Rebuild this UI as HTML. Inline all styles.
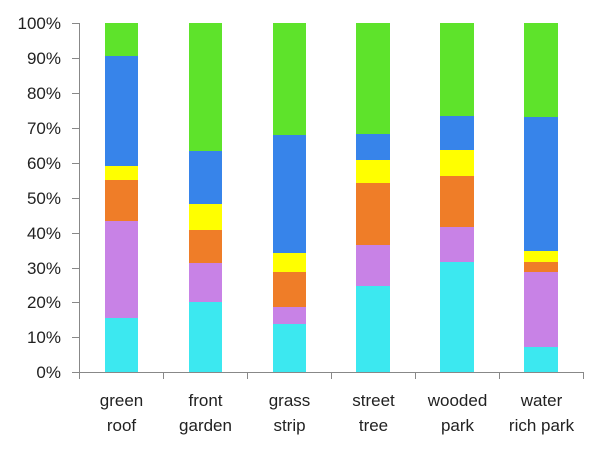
<!DOCTYPE html>
<html><head><meta charset="utf-8"><style>
html,body{margin:0;padding:0;background:#fff;}
svg{display:block;}
text{font-family:"Liberation Sans",sans-serif;font-size:17px;fill:#222;}
</style></head><body>
<svg width="610" height="450" viewBox="0 0 610 450">
<g id="bars"></g>
<g>
<!-- bar1 -->
<rect x="105" y="23" width="33" height="33" fill="#5ee32b"/>
<rect x="105" y="56" width="33" height="110" fill="#3784ea"/>
<rect x="105" y="166" width="33" height="14" fill="#ffff00"/>
<rect x="105" y="180" width="33" height="41" fill="#ef7d28"/>
<rect x="105" y="221" width="33" height="97" fill="#c882e6"/>
<rect x="105" y="318" width="33" height="54" fill="#3ce8f0"/>
<!-- bar2 -->
<rect x="189" y="23" width="33" height="128" fill="#5ee32b"/>
<rect x="189" y="151" width="33" height="53" fill="#3784ea"/>
<rect x="189" y="204" width="33" height="26" fill="#ffff00"/>
<rect x="189" y="230" width="33" height="33" fill="#ef7d28"/>
<rect x="189" y="263" width="33" height="39" fill="#c882e6"/>
<rect x="189" y="302" width="33" height="70" fill="#3ce8f0"/>
<!-- bar3 -->
<rect x="273" y="23" width="33" height="112" fill="#5ee32b"/>
<rect x="273" y="135" width="33" height="118" fill="#3784ea"/>
<rect x="273" y="253" width="33" height="19" fill="#ffff00"/>
<rect x="273" y="272" width="33" height="35" fill="#ef7d28"/>
<rect x="273" y="307" width="33" height="17" fill="#c882e6"/>
<rect x="273" y="324" width="33" height="48" fill="#3ce8f0"/>
<!-- bar4 -->
<rect x="356" y="23" width="34" height="111" fill="#5ee32b"/>
<rect x="356" y="134" width="34" height="26" fill="#3784ea"/>
<rect x="356" y="160" width="34" height="23" fill="#ffff00"/>
<rect x="356" y="183" width="34" height="62" fill="#ef7d28"/>
<rect x="356" y="245" width="34" height="41" fill="#c882e6"/>
<rect x="356" y="286" width="34" height="86" fill="#3ce8f0"/>
<!-- bar5 -->
<rect x="440" y="23" width="34" height="93" fill="#5ee32b"/>
<rect x="440" y="116" width="34" height="34" fill="#3784ea"/>
<rect x="440" y="150" width="34" height="26" fill="#ffff00"/>
<rect x="440" y="176" width="34" height="51" fill="#ef7d28"/>
<rect x="440" y="227" width="34" height="35" fill="#c882e6"/>
<rect x="440" y="262" width="34" height="110" fill="#3ce8f0"/>
<!-- bar6 -->
<rect x="524" y="23" width="34" height="94" fill="#5ee32b"/>
<rect x="524" y="117" width="34" height="134" fill="#3784ea"/>
<rect x="524" y="251" width="34" height="11" fill="#ffff00"/>
<rect x="524" y="262" width="34" height="10" fill="#ef7d28"/>
<rect x="524" y="272" width="34" height="75" fill="#c882e6"/>
<rect x="524" y="347" width="34" height="25" fill="#3ce8f0"/>
</g>
<g stroke="#888" stroke-width="1" fill="none">
<line x1="79.5" y1="23" x2="79.5" y2="372"/>
<line x1="72" y1="372.5" x2="583.5" y2="372.5"/>
<line x1="72" y1="23.5" x2="79.5" y2="23.5"/>
<line x1="72" y1="58.5" x2="79.5" y2="58.5"/>
<line x1="72" y1="93.5" x2="79.5" y2="93.5"/>
<line x1="72" y1="128.5" x2="79.5" y2="128.5"/>
<line x1="72" y1="163.5" x2="79.5" y2="163.5"/>
<line x1="72" y1="198.5" x2="79.5" y2="198.5"/>
<line x1="72" y1="233.5" x2="79.5" y2="233.5"/>
<line x1="72" y1="268.5" x2="79.5" y2="268.5"/>
<line x1="72" y1="302.5" x2="79.5" y2="302.5"/>
<line x1="72" y1="337.5" x2="79.5" y2="337.5"/>
<line x1="79.5" y1="372" x2="79.5" y2="379"/>
<line x1="163.5" y1="372" x2="163.5" y2="379"/>
<line x1="247.5" y1="372" x2="247.5" y2="379"/>
<line x1="331.5" y1="372" x2="331.5" y2="379"/>
<line x1="415.5" y1="372" x2="415.5" y2="379"/>
<line x1="499.5" y1="372" x2="499.5" y2="379"/>
<line x1="583.5" y1="372" x2="583.5" y2="379"/>
</g>
<g text-anchor="end">
<text x="61" y="29">100%</text>
<text x="61" y="64">90%</text>
<text x="61" y="99">80%</text>
<text x="61" y="134">70%</text>
<text x="61" y="169">60%</text>
<text x="61" y="204">50%</text>
<text x="61" y="239">40%</text>
<text x="61" y="274">30%</text>
<text x="61" y="308">20%</text>
<text x="61" y="343">10%</text>
<text x="61" y="378">0%</text>
</g>
<g text-anchor="middle">
<text x="121.5" y="406">green</text><text x="121.5" y="431">roof</text>
<text x="205.5" y="406">front</text><text x="205.5" y="431">garden</text>
<text x="289.5" y="406">grass</text><text x="289.5" y="431">strip</text>
<text x="373.5" y="406">street</text><text x="373.5" y="431">tree</text>
<text x="457.5" y="406">wooded</text><text x="457.5" y="431">park</text>
<text x="541.5" y="406">water</text><text x="541.5" y="431">rich park</text>
</g>
</svg>
</body></html>
